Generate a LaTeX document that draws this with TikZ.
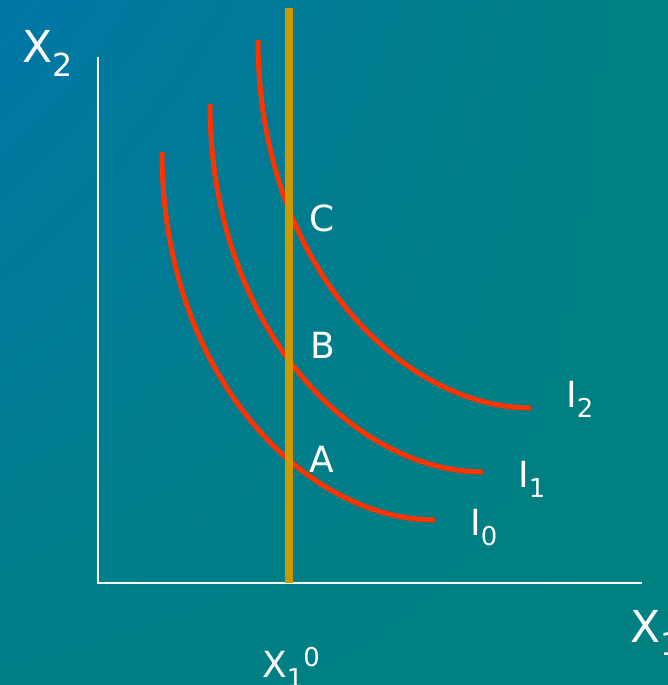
\documentclass[tikz,border=0pt]{standalone}
\usepackage{fontspec}
\setmainfont{DejaVu Sans}
\usetikzlibrary{positioning,shadings}
\definecolor{bgblue}{RGB}{0,118,166}
\definecolor{bgteal}{RGB}{0,128,128}
\definecolor{curvered}{RGB}{255,51,0}
\definecolor{linegold}{RGB}{204,153,0}
\newcommand{\subtxt}[1]{\raisebox{-0.3em}{\scalebox{0.72}{#1}}}
\newcommand{\suptxt}[1]{\raisebox{0.28em}{\scalebox{0.72}{#1}}}

\begin{document}
\begin{tikzpicture}[x=1pt, y=-1pt,
    axis/.style={draw=white, line width=2pt},
    icurve/.style={draw=curvered, line width=5pt},
    budget/.style={draw=linegold, line width=8pt},
    lbl/.style={text=white, inner sep=0pt, anchor=base west, font=\fontsize{36}{40}\selectfont},
    biglbl/.style={lbl, font=\fontsize{44}{48}\selectfont}]
  \useasboundingbox (0,0) rectangle (668,685);
  \shade[upper left=bgblue, upper right=bgteal, lower left=bgteal!85!bgblue, lower right=bgteal]
    (0,0) rectangle (668,685);

  % Axes
  \coordinate (origin) at (98,583);
  \coordinate (ytop) at (98,57);
  \coordinate (xend) at (642,583);
  \draw[axis] (ytop) -- (origin) -- (xend);

  % Indifference curves
  \foreach \dx/\dy/\n in {0/0/0, 48/-48/1, 96/-112/2} {
    \begin{scope}[shift={(\dx,\dy)}]
      \draw[icurve] (162,152) .. controls (162,376) and (306,520) .. (435,520);
    \end{scope}
  }

  % Fixed quantity of good 1
  \coordinate (ltop) at (289,8);
  \coordinate (lbot) at (289,583);
  \draw[budget] (ltop) -- (lbot);

  % Labels
  \node[biglbl] (x2lbl) at (22,63) {X\subtxt{2}};
  \node[biglbl] (x1lbl) at (630,642) {X\subtxt{1}};
  \node[lbl] (x10lbl) at (262,677) {X\subtxt{1}\suptxt{0}};
  \node[lbl] (clbl) at (309,231) {C};
  \node[lbl] (blbl) at (310,358) {B};
  \node[lbl] (albl) at (309,472) {A};
  \node[lbl] (i2lbl) at (566,407) {I\subtxt{2}};
  \node[lbl] (i1lbl) at (518,487) {I\subtxt{1}};
  \node[lbl] (i0lbl) at (470,535) {I\subtxt{0}};
\end{tikzpicture}
\end{document}
